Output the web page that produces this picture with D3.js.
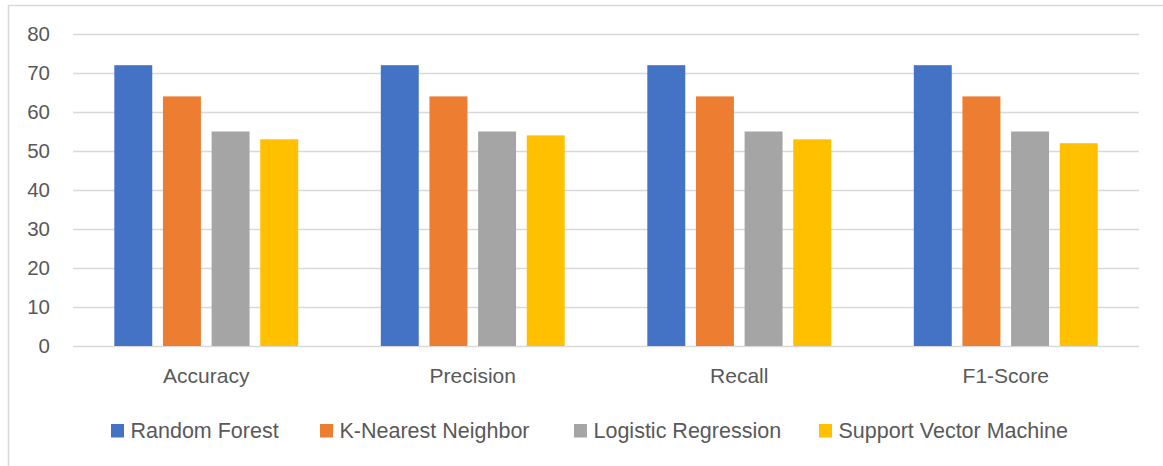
<!DOCTYPE html>
<html>
<head>
<meta charset="utf-8">
<script src="https://cdn.jsdelivr.net/npm/d3@7"></script>
<style>
  html, body { margin: 0; padding: 0; background: #fff; }
  svg { display: block; font-family: "Liberation Sans", Arial, sans-serif; }
</style>
</head>
<body>
<svg id="chart" width="1163" height="466"></svg>
<script>
// Classification metrics per model (percent)
const categories = ["Accuracy", "Precision", "Recall", "F1-Score"];
const seriesNames = ["Random Forest", "K-Nearest Neighbor", "Logistic Regression", "Support Vector Machine"];
const randomForest = [72, 72, 72, 72];
const kNearestNeighbor = [64, 64, 64, 64];
const logisticRegression = [55, 55, 55, 55];
const supportVectorMachine = [53, 54, 53, 52];
const yTicks = [0, 10, 20, 30, 40, 50, 60, 70, 80];

const seriesValues = [randomForest, kNearestNeighbor, logisticRegression, supportVectorMachine];
const colors = ["#4472C4", "#ED7D31", "#A5A5A5", "#FFC000"];
const textColor = "#595959";
const gridColor = "#D9D9D9";

const svg = d3.select("#chart");
const plot = { left: 73, right: 1139, top: 34, bottom: 346 };

// Outer frame (top and left edges)
svg.append("path")
  .attr("d", "M8.5,466 L8.5,5.5 L1163,5.5")
  .attr("fill", "none")
  .attr("stroke", gridColor)
  .attr("stroke-width", 1.6);

const x0 = d3.scaleBand().domain(categories).range([plot.left, plot.right]).padding(0);
const clusterWidth = x0.bandwidth() * 0.69;
const x1 = d3.scaleBand().domain(seriesNames).range([0, clusterWidth]).paddingInner(0.22).paddingOuter(0);
const y = d3.scaleLinear().domain([0, 80]).range([plot.bottom, plot.top]);

// Gridlines and value labels
const yAxis = svg.append("g")
  .attr("transform", `translate(${plot.left},0)`)
  .call(d3.axisLeft(y).tickValues(yTicks).tickSize(-(plot.right - plot.left)).tickPadding(23));
yAxis.select(".domain").remove();
yAxis.selectAll(".tick line").attr("stroke", gridColor).attr("stroke-width", 1.6);
yAxis.selectAll(".tick text")
  .attr("fill", textColor)
  .attr("font-size", 20.5)
  .attr("font-family", "'Liberation Sans', Arial, sans-serif");

// Bars
const groups = svg.append("g").selectAll("g")
  .data(categories)
  .join("g")
  .attr("transform", d => `translate(${x0(d) + (x0.bandwidth() - clusterWidth) / 2},0)`);

groups.selectAll("rect")
  .data((cat, ci) => seriesNames.map((name, si) => ({ name, si, value: seriesValues[si][ci] })))
  .join("rect")
  .attr("x", d => x1(d.name))
  .attr("width", x1.bandwidth())
  .attr("y", d => y(d.value))
  .attr("height", d => y(0) - y(d.value))
  .attr("fill", d => colors[d.si]);

// Category labels
const xAxis = svg.append("g")
  .attr("transform", `translate(0,${plot.bottom})`)
  .call(d3.axisBottom(x0).tickSize(0).tickPadding(22));
xAxis.select(".domain").remove();
xAxis.selectAll(".tick text")
  .attr("fill", textColor)
  .attr("font-size", 21)
  .attr("font-family", "'Liberation Sans', Arial, sans-serif");

// Legend
const legendStarts = [111, 320, 574, 819];
const legend = svg.append("g").attr("transform", "translate(0,424)");
const items = legend.selectAll("g")
  .data(seriesNames)
  .join("g")
  .attr("transform", (d, i) => `translate(${legendStarts[i]},0)`);
items.append("rect")
  .attr("width", 13)
  .attr("height", 13.5)
  .attr("fill", (d, i) => colors[i]);
items.append("text")
  .attr("x", 19.5)
  .attr("y", 14)
  .attr("fill", textColor)
  .attr("font-size", 21.5)
  .text(d => d);
</script>
</body>
</html>
